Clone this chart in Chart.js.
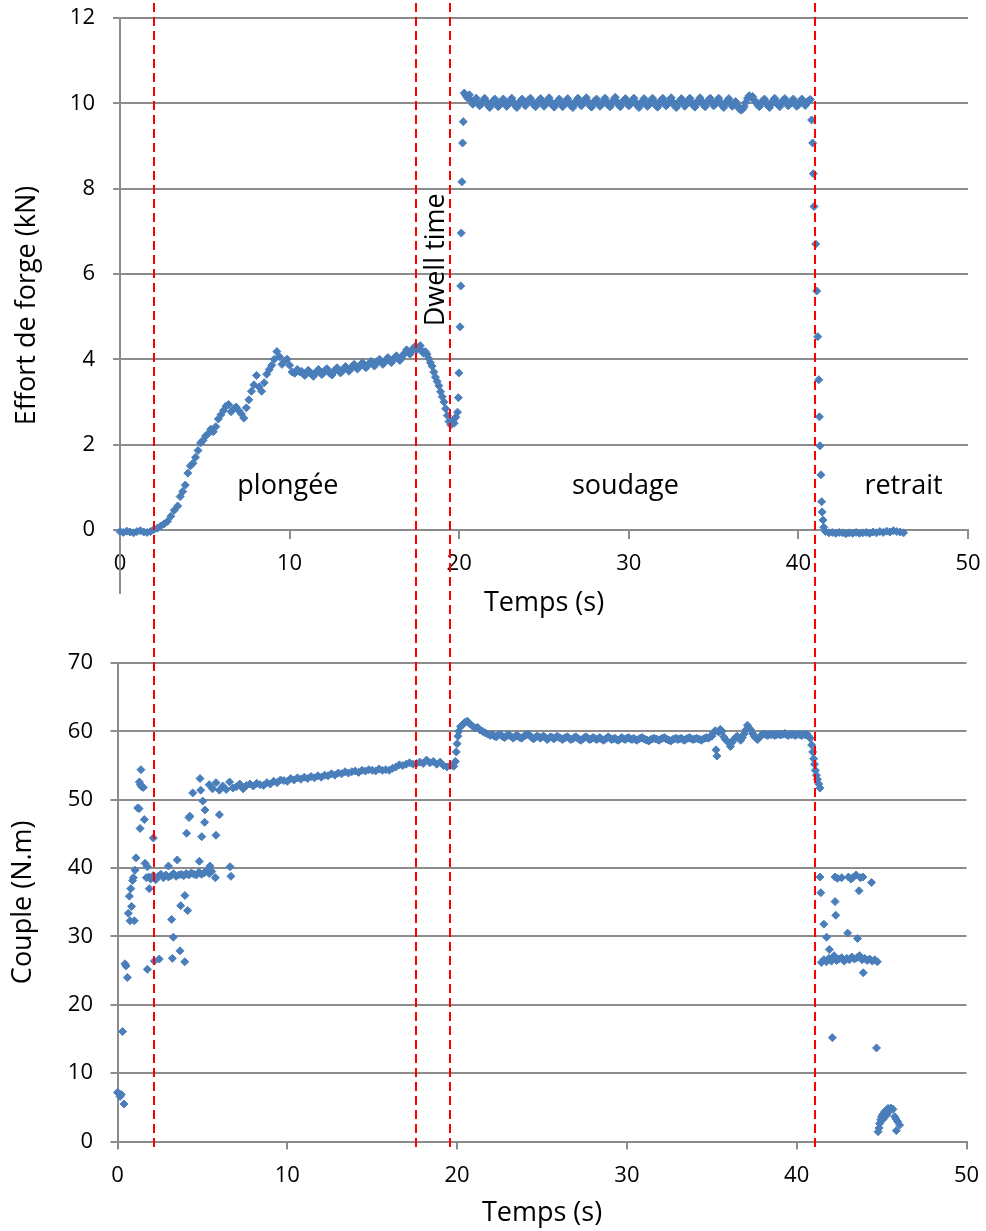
<!DOCTYPE html>
<html lang="fr">
<head>
<meta charset="utf-8">
<title>Effort de forge et couple</title>
<script src="https://cdn.jsdelivr.net/npm/chart.js@4.4.1/dist/chart.umd.min.js"></script>
<style>
  html, body { margin: 0; padding: 0; background: #fff; overflow: hidden; }
  #page { position: relative; width: 986px; height: 1231px; }
  .zone { position: absolute; left: 0; width: 986px; }
  #zoneEffort { top: 0; height: 620px; }
  #zoneCouple { top: 620px; height: 611px; }
</style>
</head>
<body>
<div id="page">
  <div class="zone" id="zoneEffort"><canvas id="effortChart"></canvas></div>
  <div class="zone" id="zoneCouple"><canvas id="coupleChart"></canvas></div>
</div>
<script>
// axes
const graduationsTemps = [0, 10, 20, 30, 40, 50];
const graduationsEffort = [0, 2, 4, 6, 8, 10, 12];
const graduationsCouple = [0, 10, 20, 30, 40, 50, 60, 70];

// limites des phases (s) et noms
const limitesPhases = [2.0, 17.45, 19.46, 40.98];
const nomsPhases = ["plongée", "soudage", "retrait"];
const nomDwell = "Dwell time";

// effort de forge (kN) en fonction du temps (s)
const tempsEffort = [
  // repos
  0, 0.2, 0.4, 0.6, 0.8, 1.0, 1.2, 1.4, 1.6, 1.8, 2.0,
  // plongée
  2.2, 2.4, 2.6, 2.8, 3.0, 3.2, 3.4, 3.55, 3.7, 3.85,
  4.0, 4.15, 4.3, 4.45, 4.6, 4.75, 4.9, 5.05, 5.2, 5.35,
  5.5, 5.65, 5.8, 5.95, 6.1, 6.25, 6.4, 6.55, 6.7, 6.85,
  7.0, 7.15, 7.3, 7.45, 7.6, 7.75, 7.9, 8.05, 8.2, 8.35,
  8.5, 8.65, 8.8, 8.95, 9.1, 9.25, 9.4, 9.55, 9.7, 9.85,
  10.0, 10.15, 10.3, 10.45, 10.6,
  10.7, 10.8, 10.9, 11.0, 11.1, 11.2, 11.3, 11.4, 11.5, 11.6,
  11.7, 11.8, 11.9, 12.0, 12.1, 12.2, 12.3, 12.4, 12.5, 12.6,
  12.7, 12.8, 12.9, 13.0, 13.1, 13.2, 13.3, 13.4, 13.5, 13.6,
  13.7, 13.8, 13.9, 14.0, 14.1, 14.2, 14.3, 14.4, 14.5, 14.6,
  14.7, 14.8, 14.9, 15.0, 15.1, 15.2, 15.3, 15.4, 15.5, 15.6,
  15.7, 15.8, 15.9, 16.0, 16.1, 16.2, 16.3, 16.4, 16.5, 16.6,
  16.7, 16.8, 16.9, 17.0, 17.1, 17.2, 17.3, 17.4, 17.5, 17.6,
  17.7, 17.8, 17.9, 18.0,
  // dwell time
  18.1, 18.2, 18.3, 18.4, 18.5, 18.6, 18.7, 18.8, 18.9, 19.0,
  19.1, 19.2, 19.3, 19.4, 19.5, 19.6, 19.7, 19.8, 19.9,
  // montée
  19.95, 19.98, 20.05, 20.09, 20.12, 20.16, 20.2, 20.24,
  // soudage
  20.3, 20.4, 20.5, 20.6, 20.7, 20.8, 20.9, 21.0, 21.1, 21.2,
  21.3, 21.4, 21.5, 21.6, 21.7, 21.8, 21.9, 22.0, 22.1, 22.2,
  22.3, 22.4, 22.5, 22.6, 22.7, 22.8, 22.9, 23.0, 23.1, 23.2,
  23.3, 23.4, 23.5, 23.6, 23.7, 23.8, 23.9, 24.0, 24.1, 24.2,
  24.3, 24.4, 24.5, 24.6, 24.7, 24.8, 24.9, 25.0, 25.1, 25.2,
  25.3, 25.4, 25.5, 25.6, 25.7, 25.8, 25.9, 26.0, 26.1, 26.2,
  26.3, 26.4, 26.5, 26.6, 26.7, 26.8, 26.9, 27.0, 27.1, 27.2,
  27.3, 27.4, 27.5, 27.6, 27.7, 27.8, 27.9, 28.0, 28.1, 28.2,
  28.3, 28.4, 28.5, 28.6, 28.7, 28.8, 28.9, 29.0, 29.1, 29.2,
  29.3, 29.4, 29.5, 29.6, 29.7, 29.8, 29.9, 30.0, 30.1, 30.2,
  30.3, 30.4, 30.5, 30.6, 30.7, 30.8, 30.9, 31.0, 31.1, 31.2,
  31.3, 31.4, 31.5, 31.6, 31.7, 31.8, 31.9, 32.0, 32.1, 32.2,
  32.3, 32.4, 32.5, 32.6, 32.7, 32.8, 32.9, 33.0, 33.1, 33.2,
  33.3, 33.4, 33.5, 33.6, 33.7, 33.8, 33.9, 34.0, 34.1, 34.2,
  34.3, 34.4, 34.5, 34.6, 34.7, 34.8, 34.9, 35.0, 35.1, 35.2,
  35.3, 35.4, 35.5, 35.6, 35.7, 35.8, 35.9, 36.0, 36.1, 36.2,
  36.3, 36.4, 36.5, 36.6, 36.7, 36.8, 36.9, 37.0, 37.1, 37.2,
  37.3, 37.4, 37.5, 37.6, 37.7, 37.8, 37.9, 38.0, 38.1, 38.2,
  38.3, 38.4, 38.5, 38.6, 38.7, 38.8, 38.9, 39.0, 39.1, 39.2,
  39.3, 39.4, 39.5, 39.6, 39.7, 39.8, 39.9, 40.0, 40.1, 40.2,
  40.3, 40.4, 40.5, 40.6, 40.7,
  // chute
  40.78, 40.84, 40.88, 40.92, 41.02, 41.08, 41.14, 41.2, 41.24, 41.27,
  41.33, 41.37, 41.4, 41.45, 41.5,
  // retrait
  41.6, 41.8, 42.0, 42.2, 42.4, 42.6, 42.8, 43.0, 43.2, 43.4,
  43.6, 43.8, 44.0, 44.2, 44.4, 44.6, 44.8, 45.0, 45.2, 45.4,
  45.6, 45.8, 46.0, 46.2
];
const effort = [
  -0.04, -0.06, -0.03, -0.05, -0.07, -0.04, -0.02, -0.05, -0.06, -0.04, 0.01,
  0.04, 0.09, 0.14, 0.2, 0.32, 0.46, 0.56, 0.78, 0.9, 1.05,
  1.33, 1.5, 1.56, 1.7, 1.86, 2.04, 2.1, 2.2, 2.26, 2.36,
  2.3, 2.42, 2.6, 2.7, 2.8, 2.9, 2.94, 2.77, 2.84, 2.88,
  2.8, 2.72, 2.62, 2.86, 3.05, 3.25, 3.4, 3.62, 3.35, 3.25,
  3.45, 3.65, 3.76, 3.86, 4.0, 4.18, 4.06, 3.88, 3.96, 4.0,
  3.86, 3.7, 3.67, 3.76, 3.7,
  3.72, 3.66, 3.62, 3.68, 3.74, 3.7, 3.64, 3.6, 3.66, 3.72,
  3.76, 3.7, 3.64, 3.68, 3.74, 3.78, 3.72, 3.66, 3.63, 3.7,
  3.76, 3.8, 3.74, 3.68, 3.72, 3.78, 3.83, 3.78, 3.72, 3.77,
  3.83, 3.88, 3.82, 3.77, 3.82, 3.88, 3.92, 3.86, 3.8, 3.85,
  3.9, 3.95, 3.89, 3.84, 3.9, 3.96, 4.0, 3.94, 3.88, 3.93,
  3.99, 4.04, 3.97, 3.92, 3.98, 4.04, 4.08, 4.02, 3.97, 4.03,
  4.1, 4.15, 4.22, 4.16, 4.12, 4.18, 4.26, 4.3, 4.22, 4.28,
  4.32, 4.2, 4.14, 4.18,
  4.12, 4.02, 3.92, 3.84, 3.7, 3.58, 3.48, 3.38, 3.24, 3.12,
  3.0, 2.84, 2.68, 2.54, 2.46, 2.56, 2.5, 2.64, 2.76,
  3.1, 3.68, 4.76, 5.72, 6.96, 8.16, 9.07, 9.57,
  10.24, 10.18, 10.12, 10.2, 10.08, 9.98, 10.05, 10.12, 10.02, 9.94,
  9.98, 10.06, 10.12, 10.04, 9.95, 9.9, 9.98, 10.06, 10.1, 10.0,
  9.92, 9.96, 10.04, 10.1, 10.02, 9.93, 9.98, 10.06, 10.12, 10.03,
  9.95, 9.9, 9.97, 10.05, 10.1, 10.02, 9.94, 10.0, 10.08, 10.12,
  10.04, 9.96, 9.92, 9.99, 10.07, 10.11, 10.01, 9.93, 9.98, 10.06,
  10.13, 10.04, 9.95, 9.91, 9.98, 10.05, 10.1, 10.0, 9.92, 9.97,
  10.05, 10.11, 10.03, 9.94, 9.9, 9.98, 10.06, 10.12, 10.02, 9.94,
  9.99, 10.07, 10.13, 10.04, 9.95, 9.91, 9.99, 10.06, 10.1, 10.01,
  9.93, 9.97, 10.05, 10.12, 10.03, 9.95, 9.92, 10.0, 10.08, 10.14,
  10.04, 9.96, 9.92, 9.99, 10.07, 10.11, 10.02, 9.94, 9.98, 10.06,
  10.12, 10.03, 9.95, 9.9, 9.98, 10.05, 10.11, 10.02, 9.93, 9.97,
  10.05, 10.12, 10.04, 9.95, 9.91, 9.99, 10.07, 10.12, 10.02, 9.94,
  9.98, 10.06, 10.13, 10.03, 9.94, 9.9, 9.98, 10.06, 10.11, 10.01,
  9.93, 9.98, 10.06, 10.12, 10.03, 9.95, 9.91, 9.99, 10.07, 10.13,
  10.04, 9.96, 9.92, 10.0, 10.08, 10.12, 10.02, 9.94, 9.98, 10.06,
  10.12, 10.03, 9.95, 9.9, 9.98, 10.06, 10.11, 10.02, 9.93, 9.97,
  10.04, 9.95, 9.88, 9.84, 9.86, 9.92, 10.02, 10.12, 10.18, 10.14,
  10.16, 10.08, 10.02, 9.96, 9.92, 10.0, 10.06, 10.1, 10.02, 9.94,
  9.9, 9.98, 10.06, 10.12, 10.04, 9.96, 9.92, 10.0, 10.07, 10.11,
  10.02, 9.94, 9.98, 10.05, 10.1, 10.01, 9.93, 9.96, 10.04, 10.1,
  10.02, 9.95, 10.0, 10.06, 10.09,
  9.61, 9.07, 8.35, 7.58, 6.7, 5.6, 4.53, 3.52, 2.65, 1.97,
  1.29, 0.66, 0.42, 0.23, 0.06,
  -0.04, -0.07, -0.06, -0.08, -0.06, -0.07, -0.09, -0.07, -0.08, -0.06,
  -0.08, -0.07, -0.06, -0.08, -0.05, -0.07, -0.04, -0.06, -0.03, -0.05,
  -0.02, -0.04, -0.05, -0.07
];

// couple (N.m) en fonction du temps (s)
const tempsCouple = [
  // démarrage, points dispersés
  0.0, 0.08, 0.15, 0.22, 0.38, 0.3, 0.44, 0.5, 0.58, 0.64,
  0.74, 0.99, 0.83, 0.7, 0.78, 0.89, 0.93, 1.03, 1.09, 1.19,
  1.27, 1.33, 1.58, 1.29, 1.35, 1.42, 1.52, 1.38, 1.62, 1.76,
  1.87, 1.76, 2.11, 2.17, 2.46, 3.0, 3.52, 3.19, 3.29, 3.68,
  3.23, 3.96, 3.72, 3.97, 4.13, 4.07, 4.21, 4.43, 4.82, 4.86,
  4.9, 5.02, 5.15, 5.13, 4.96, 5.45, 5.8, 6.0, 5.76, 6.63,
  6.68, 4.26, 1.7, 1.85,
  // palier ~39
  1.95, 2.1, 2.25, 2.4, 2.55, 2.7, 2.85, 3.0, 3.15, 3.3,
  3.45, 3.6, 3.75, 3.9, 4.05, 4.2, 4.35, 4.5, 4.65, 4.8,
  4.95, 5.1, 5.25, 5.4, 5.55,
  // plongée
  5.4, 5.6, 5.8, 6.0, 6.2, 6.4, 6.6, 6.8, 7.0, 7.2,
  7.4, 7.6, 7.8, 8.0, 8.2, 8.4, 8.6, 8.8, 9.0, 9.2,
  9.4, 9.6, 9.8, 10.0, 10.2, 10.4, 10.6, 10.8, 11.0, 11.2,
  11.4, 11.6, 11.8, 12.0, 12.2, 12.4, 12.6, 12.8, 13.0, 13.2,
  13.4, 13.6, 13.8, 14.0, 14.2, 14.4, 14.6, 14.8, 15.0, 15.2,
  15.4, 15.6, 15.8, 16.0, 16.2, 16.4, 16.6, 16.8, 17.0, 17.2,
  17.4, 17.6, 17.8, 18.0, 18.2, 18.4, 18.6, 18.8, 19.0, 19.2,
  19.4, 19.6, 19.8,
  // montée
  19.9, 19.95, 20.0, 20.05, 20.1, 20.2, 20.3, 20.45, 20.6, 20.75,
  20.9, 21.05, 21.2, 21.35, 21.5, 21.65, 21.8, 21.95,
  // soudage
  22.1, 22.2, 22.3, 22.4, 22.5, 22.6, 22.7, 22.8, 22.9, 23.0,
  23.1, 23.2, 23.3, 23.4, 23.5, 23.6, 23.7, 23.8, 23.9, 24.0,
  24.1, 24.2, 24.3, 24.4, 24.5, 24.6, 24.7, 24.8, 24.9, 25.0,
  25.1, 25.2, 25.3, 25.4, 25.5, 25.6, 25.7, 25.8, 25.9, 26.0,
  26.1, 26.2, 26.3, 26.4, 26.5, 26.6, 26.7, 26.8, 26.9, 27.0,
  27.1, 27.2, 27.3, 27.4, 27.5, 27.6, 27.7, 27.8, 27.9, 28.0,
  28.1, 28.2, 28.3, 28.4, 28.5, 28.6, 28.7, 28.8, 28.9, 29.0,
  29.1, 29.2, 29.3, 29.4, 29.5, 29.6, 29.7, 29.8, 29.9, 30.0,
  30.1, 30.2, 30.3, 30.4, 30.5, 30.6, 30.7, 30.8, 30.9, 31.0,
  31.1, 31.2, 31.3, 31.4, 31.5, 31.6, 31.7, 31.8, 31.9, 32.0,
  32.1, 32.2, 32.3, 32.4, 32.5, 32.6, 32.7, 32.8, 32.9, 33.0,
  33.1, 33.2, 33.3, 33.4, 33.5, 33.6, 33.7, 33.8, 33.9, 34.0,
  34.1, 34.2, 34.3, 34.4, 34.5, 34.6, 34.7, 34.8, 34.9, 35.0,
  35.1, 35.2, 35.3, 35.4, 35.5, 35.6, 35.7, 35.8, 35.9, 36.0,
  36.1, 36.2, 36.3, 36.4, 36.5, 36.6, 36.7, 36.8, 36.9, 37.0,
  37.1, 37.2, 37.3, 37.4, 37.5, 37.6, 37.7, 37.8, 37.9, 38.0,
  38.1, 38.2, 38.3, 38.4, 38.5, 38.6, 38.7, 38.8, 38.9, 39.0,
  39.1, 39.2, 39.3, 39.4, 39.5, 39.6, 39.7, 39.8, 39.9, 40.0,
  40.1, 40.2, 40.3, 40.4, 40.5, 40.6, 40.7,
  35.25,
  // chute
  40.8, 40.88, 40.94, 41.0, 41.05, 41.1, 41.16, 41.22, 41.3, 41.37,
  // retrait, points dispersés
  41.37, 41.42, 42.26, 42.4, 42.65, 43.05, 43.2, 43.3, 43.5, 43.75,
  43.9, 43.67, 44.41, 42.26, 42.3, 41.6, 41.76, 43.0, 43.58, 41.92,
  43.92, 42.1, 44.7,
  // palier ~26.5
  41.45, 41.6, 41.75, 41.9, 42.05, 42.2, 42.35, 42.5, 42.65, 42.8,
  42.95, 43.1, 43.25, 43.4, 43.55, 43.7, 43.85, 44.0, 44.15, 44.3,
  44.45, 44.6, 44.75,
  // fin
  44.79, 44.85, 44.89, 44.95, 44.99, 45.08, 45.18, 45.28, 45.38, 45.48,
  45.55, 45.67, 45.77, 45.85, 45.95, 46.06, 45.87, 45.3, 45.1
];
const couple = [
  7.2, 7.0, 6.6, 6.9, 5.5, 16.1, 26.0, 25.7, 24.0, 33.4,
  32.3, 32.3, 34.4, 35.9, 37.0, 38.2, 38.6, 39.7, 41.5, 48.8,
  48.7, 45.8, 47.1, 52.6, 52.2, 51.9, 51.8, 54.4, 40.7, 40.2,
  37.0, 25.2, 44.4, 26.4, 26.7, 40.3, 41.2, 32.5, 29.9, 27.9,
  26.8, 26.3, 34.5, 36.0, 33.8, 45.1, 47.4, 51.0, 41.0, 53.1,
  51.4, 49.8, 48.5, 46.7, 44.6, 40.3, 44.8, 47.8, 38.6, 40.2,
  38.8, 47.6, 38.6, 38.7,
  38.4, 38.9, 38.3, 38.8, 39.1, 38.6, 39.0, 38.7, 38.9, 39.2,
  38.8, 39.0, 39.1, 38.9, 39.2, 39.0, 39.3, 39.1, 39.0, 39.4,
  39.1, 39.3, 39.6, 39.2, 39.5,
  52.2, 51.6, 52.5, 51.4, 52.0, 51.5, 52.6, 51.7, 51.9, 52.3,
  51.6, 52.1, 52.3, 52.0, 52.4, 52.2, 52.1, 52.5, 52.3, 52.7,
  52.5, 52.9, 52.8, 52.7, 53.1, 52.9, 53.2, 53.0, 53.3, 53.1,
  53.4, 53.2, 53.5, 53.3, 53.6, 53.5, 53.8, 53.6, 53.9, 53.8,
  54.1, 53.9, 54.1, 54.2, 54.0, 54.3, 54.2, 54.4, 54.3, 54.2,
  54.5, 54.3, 54.4, 54.3, 54.6, 54.8, 55.1, 55.0, 55.2, 55.4,
  55.2, 55.3, 55.5, 55.3, 55.8, 55.4, 55.6, 55.2, 55.5, 55.0,
  54.8, 55.0, 54.9,
  55.6, 57.0, 58.2, 59.3, 60.0, 60.7, 60.9, 61.3, 61.5, 61.1,
  60.8, 60.5, 60.6, 60.2, 60.0, 59.8, 59.6, 59.4,
  59.5, 59.3, 59.2, 59.4, 59.6, 59.4, 59.2, 59.1, 59.3, 59.5,
  59.4, 59.2, 59.0, 59.2, 59.4, 59.3, 59.1, 59.0, 59.2, 59.4,
  59.5, 59.6, 59.3, 59.1, 58.9, 59.1, 59.3, 59.2, 59.0, 59.2,
  59.3, 59.1, 58.8, 59.0, 59.2, 59.1, 58.9, 59.1, 59.3, 59.1,
  59.0, 58.8, 59.0, 59.1, 59.2, 59.0, 58.8, 58.9, 59.1, 59.2,
  59.0, 58.8, 58.7, 58.9, 59.1, 59.2, 59.0, 58.8, 58.9, 59.1,
  59.0, 58.8, 58.9, 59.1, 58.9, 58.7, 58.8, 59.0, 59.2, 59.0,
  58.8, 58.9, 59.0, 58.8, 58.7, 58.9, 59.1, 58.9, 58.8, 59.0,
  59.1, 58.9, 58.8, 59.0, 58.8, 58.7, 58.9, 59.0, 59.1, 58.9,
  58.8, 58.7, 58.6, 58.8, 58.9, 59.0, 58.9, 58.8, 58.7, 58.9,
  59.0, 59.1, 58.9, 58.8, 58.7, 58.6, 58.8, 58.9, 59.0, 58.8,
  58.9, 59.0, 58.8, 58.7, 58.9, 59.0, 59.1, 58.9, 58.8, 58.9,
  59.0, 58.9, 58.8, 58.7, 58.9, 59.0, 59.1, 59.0, 59.2, 59.3,
  59.8, 60.1, 56.4, 59.9, 60.3, 60.0, 59.2, 58.8, 58.6, 58.3,
  57.8, 58.4, 58.8, 59.1, 59.3, 59.0, 58.7, 59.1, 59.6, 60.2,
  60.9, 60.5, 60.2, 59.7, 59.3, 59.0, 58.8, 59.1, 59.4, 59.6,
  59.6, 59.5, 59.4, 59.6, 59.5, 59.6, 59.4, 59.5, 59.6, 59.5,
  59.5, 59.6, 59.7, 59.5, 59.4, 59.6, 59.5, 59.6, 59.4, 59.5,
  59.6, 59.5, 59.4, 59.6, 59.5, 59.6, 59.3,
  57.3,
  59.0, 58.0, 57.0, 56.0, 55.2, 54.3, 53.6, 53.0, 52.3, 51.7,
  38.7, 36.4, 38.7, 38.5, 38.6, 38.7, 38.4, 38.6, 39.0, 38.6,
  38.7, 36.7, 37.9, 35.1, 33.1, 31.8, 29.9, 30.5, 29.7, 28.1,
  24.7, 15.2, 13.7,
  26.2, 26.6, 26.3, 26.8, 26.4, 27.2, 26.5, 26.7, 26.9, 26.4,
  26.8, 26.6, 27.0, 26.7, 26.9, 27.2, 26.6, 26.8, 26.5, 26.7,
  26.4, 26.6, 26.3,
  1.45, 2.0, 2.66, 3.2, 3.64, 4.0, 4.37, 4.6, 4.86, 4.5,
  4.9, 4.72, 3.64, 3.3, 2.9, 2.42, 1.6, 3.9, 3.3
];

const BLEU = "#4a7ebb";
const GRIS = "#8c8c8c";
const POLICE = "'Open Sans', sans-serif";

Chart.defaults.font.family = POLICE;
Chart.defaults.color = "#000";

let graphEffort = null;

// lignes rouges en pointillés entre les phases (mêmes pixels sur les deux graphes)
const lignesPhases = {
  id: "lignesPhases",
  afterDatasetsDraw(chart, args, opts) {
    const ref = (chart.canvas.id === "coupleChart" && graphEffort) ? graphEffort.scales.x : chart.scales.x;
    const ctx = chart.ctx;
    ctx.save();
    ctx.strokeStyle = "#ff0000";
    ctx.lineWidth = 2;
    ctx.setLineDash([9, 5]);
    limitesPhases.forEach(t => {
      const px = Math.round(ref.getPixelForValue(t));
      ctx.beginPath();
      ctx.moveTo(px, opts.debut);
      ctx.lineTo(px, opts.fin);
      ctx.stroke();
    });
    ctx.restore();
  }
};

// noms des phases sur le graphe du haut
const textesPhases = {
  id: "textesPhases",
  afterDatasetsDraw(chart) {
    const {ctx, scales: {x, y}} = chart;
    const abscisses = [9.9, 29.8, 46.2];
    ctx.save();
    ctx.fillStyle = "#000";
    ctx.font = "27px " + POLICE;
    ctx.textAlign = "center";
    ctx.textBaseline = "alphabetic";
    nomsPhases.forEach((nom, i) => {
      ctx.fillText(nom, x.getPixelForValue(abscisses[i]), y.getPixelForValue(0.84));
    });
    ctx.translate(x.getPixelForValue(19.1), y.getPixelForValue(6.33));
    ctx.rotate(-Math.PI / 2);
    ctx.fillText(nomDwell, 0, 0);
    ctx.restore();
  }
};

function points(xs, ys) {
  return xs.map((t, i) => ({ x: t, y: ys[i] }));
}

function jeuDonnees(xs, ys) {
  return {
    data: points(xs, ys),
    pointStyle: "rectRot",
    pointRadius: 4,
    pointBorderWidth: 1,
    backgroundColor: BLEU,
    borderColor: BLEU,
    showLine: false,
    clip: false
  };
}

function axeTemps(position, hauteur) {
  return {
    type: "linear",
    position: position,
    min: 0,
    max: 50,
    afterBuildTicks: scale => { scale.ticks = graduationsTemps.map(v => ({ value: v })); },
    afterFit: scale => {
      scale.height = hauteur;
      scale.paddingLeft = 0;
      scale.paddingRight = 0;
    },
    grid: { drawOnChartArea: false, drawTicks: true, tickLength: 8, color: GRIS, lineWidth: 2 },
    border: { display: true, color: GRIS, width: 2 },
    ticks: { font: { size: 22 }, padding: 13, maxRotation: 0 },
    title: { display: true, text: "Temps (s)", font: { size: 27 }, padding: { top: 0, bottom: 0 } }
  };
}

function axeVertical(titre, min, max, graduations, largeur, padTitre, padTicks) {
  return {
    type: "linear",
    position: "left",
    min: min,
    max: max,
    afterBuildTicks: scale => { scale.ticks = graduations.map(v => ({ value: v })); },
    afterFit: scale => {
      scale.width = largeur;
      scale.paddingTop = 0;
      scale.paddingBottom = 0;
    },
    grid: { color: GRIS, lineWidth: 2, drawTicks: true, tickLength: 7 },
    border: { display: true, color: GRIS, width: 2 },
    ticks: { font: { size: 22 }, padding: padTicks },
    title: { display: true, text: titre, font: { size: 27 }, padding: { top: padTitre, bottom: 0 } }
  };
}

graphEffort = new Chart(document.getElementById("effortChart"), {
  type: "scatter",
  data: { datasets: [jeuDonnees(tempsEffort, effort)] },
  options: {
    responsive: true,
    maintainAspectRatio: false,
    animation: false,
    events: [],
    layout: { padding: { left: 0, right: 18, top: 18, bottom: 27 } },
    plugins: {
      legend: { display: false },
      tooltip: { enabled: false },
      lignesPhases: { debut: 3, fin: 620 }
    },
    scales: {
      x: axeTemps({ y: 0 }, 90),
      y: axeVertical("Effort de forge (kN)", -1.48, 12, graduationsEffort, 120, 10.8, 18)
    }
  },
  plugins: [textesPhases, lignesPhases]
});

new Chart(document.getElementById("coupleChart"), {
  type: "scatter",
  data: { datasets: [jeuDonnees(tempsCouple, couple)] },
  options: {
    responsive: true,
    maintainAspectRatio: false,
    animation: false,
    events: [],
    layout: { padding: { left: 0, right: 19.5, top: 43, bottom: 1.4 } },
    plugins: {
      legend: { display: false },
      tooltip: { enabled: false },
      lignesPhases: { debut: 0, fin: 532 }
    },
    scales: {
      x: axeTemps("bottom", 88),
      y: axeVertical("Couple (N.m)", 0, 70, graduationsCouple, 117.5, 6.8, 17.5)
    }
  },
  plugins: [lignesPhases]
});
</script>
</body>
</html>
